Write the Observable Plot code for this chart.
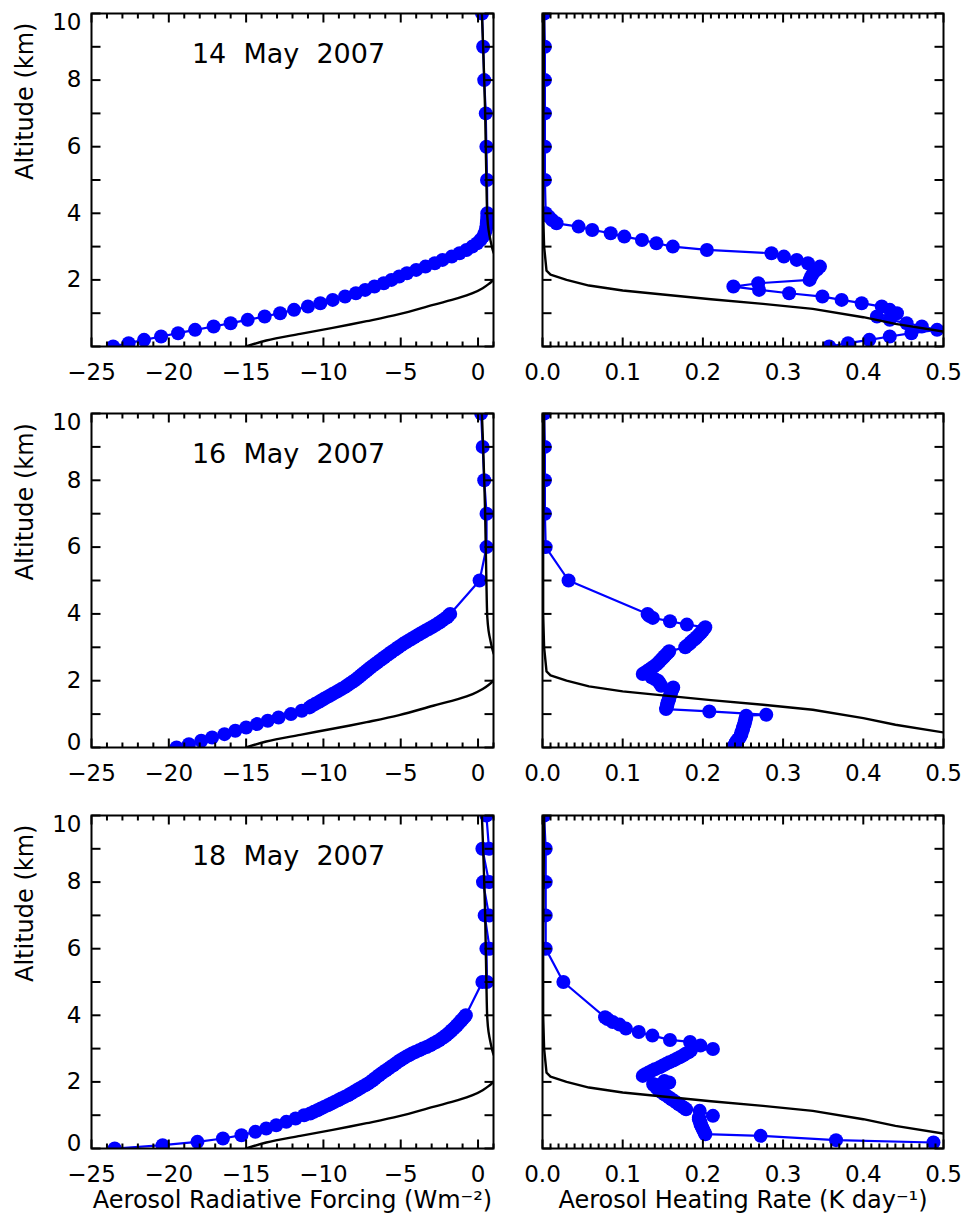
<!DOCTYPE html>
<html><head><meta charset="utf-8">
<script src="https://cdn.jsdelivr.net/npm/d3@7"></script>
<script src="https://cdn.jsdelivr.net/npm/@observablehq/plot@0.6"></script>
<style>
body{margin:0;background:#fff;}
#wrap{position:relative;width:963px;height:1221px;background:#fff;overflow:hidden;}
.cell{position:absolute;}
</style></head><body><div id="wrap"></div>
<script>
// ---------- DATA ----------
const dates = ["14\u00a0 May\u00a0 2007", "16\u00a0 May\u00a0 2007", "18\u00a0 May\u00a0 2007"];
const yTitle = "Altitude (km)";
const xTitleForcing = "Aerosol Radiative Forcing (Wm\u207b\u00b2)";
const xTitleHeating = "Aerosol Heating Rate (K day\u207b\u00b9)";

const forcingMajorTicks = [-25, -20, -15, -10, -5, 0];
const forcingMinorTicks = [-24,-23,-22,-21,-19,-18,-17,-16,-14,-13,-12,-11,-9,-8,-7,-6,-4,-3,-2,-1,1];
const heatingMajorTicks = [0, 0.1, 0.2, 0.3, 0.4, 0.5];
const heatingMinorTicks = [0.01,0.02,0.03,0.04,0.05,0.06,0.07,0.08,0.09,0.11,0.12,0.13,0.14,0.15,0.16,0.17,0.18,0.19,0.21,0.22,0.23,0.24,0.25,0.26,0.27,0.28,0.29,0.31,0.32,0.33,0.34,0.35,0.36,0.37,0.38,0.39,0.41,0.42,0.43,0.44,0.45,0.46,0.47,0.48,0.49];
const altTicks = [0,1,2,3,4,5,6,7,8,9,10];
const altLabels = [2,4,6,8];

// 14 May forcing profile
const forcingAlt14 = [0,0.1,0.2,0.3,0.4,0.5,0.6,0.7,0.8,0.9,1.0,1.1,1.2,1.3,1.4,1.5,1.6,1.7,1.8,1.9,2.0,2.1,2.2,2.3,2.4,2.5,2.6,2.7,2.8,2.9,3.0,3.1,3.2,3.3,3.4,3.5,3.6,3.7,3.8,3.9,4.0,5,6,7,8,9,10];
const forcing14 = [-23.6,-22.6,-21.6,-20.5,-19.4,-18.3,-17.1,-16.0,-14.9,-13.8,-12.8,-11.9,-11.0,-10.2,-9.4,-8.6,-7.9,-7.3,-6.7,-6.1,-5.6,-5.1,-4.6,-4.0,-3.4,-2.8,-2.3,-1.7,-1.2,-0.75,-0.37,-0.06,0.15,0.33,0.43,0.5,0.54,0.57,0.58,0.6,0.6,0.58,0.54,0.5,0.4,0.33,0.26];

// 16 May forcing profile
const forcingAlt16 = [0,0.1,0.2,0.3,0.4,0.5,0.6,0.7,0.8,0.9,1.0,1.1,1.2,
 1.25,1.3,1.35,1.4,1.45,1.5,1.55,1.6,1.65,1.7,1.75,1.8,1.85,1.9,1.95,2.0,2.05,2.1,2.15,2.2,2.25,2.3,2.35,2.4,2.45,2.5,2.55,2.6,2.65,2.7,2.75,2.8,2.85,2.9,2.95,3.0,3.05,3.1,3.15,3.2,3.25,3.3,3.35,3.4,3.45,3.5,3.55,3.6,3.65,3.7,3.75,3.8,3.85,3.9,3.95,4.0,
 5,6,7,8,9,10];
const forcing16 = [-19.5,-18.7,-17.9,-17.2,-16.4,-15.7,-15.0,-14.3,-13.6,-12.9,-12.1,-11.4,-10.9,
 -10.75,-10.55,-10.35,-10.17,-9.98,-9.8,-9.6,-9.41,-9.22,-9.03,-8.84,-8.65,-8.49,-8.33,-8.17,-8.01,-7.86,-7.73,-7.6,-7.47,-7.34,-7.2,-7.07,-6.94,-6.79,-6.65,-6.5,-6.36,-6.21,-6.06,-5.92,-5.77,-5.62,-5.47,-5.31,-5.16,-5.0,-4.85,-4.67,-4.49,-4.31,-4.13,-3.95,-3.77,-3.58,-3.39,-3.19,-3.0,-2.81,-2.63,-2.47,-2.32,-2.16,-2.0,-1.9,-1.8,
 0.1,0.55,0.55,0.4,0.3,0.2];

// 18 May forcing profile
const forcingAlt18 = [0,0.1,0.2,0.3,0.4,0.5,0.6,0.7,0.8,0.9,1.0,
 1.05,1.1,1.15,1.2,1.25,1.3,1.35,1.4,1.45,1.5,1.55,1.6,1.65,1.7,1.75,1.8,1.85,1.9,1.95,2.0,2.05,2.1,2.15,2.2,2.25,2.3,2.35,2.4,2.45,2.5,2.55,2.6,2.65,2.7,2.75,2.8,2.85,2.9,2.95,3.0,3.05,3.1,3.15,3.2,3.25,3.3,3.35,3.4,3.45,3.5,3.55,3.6,3.65,3.7,3.75,3.8,3.85,3.9,3.95,4.0,
 5,5,6,6,7,7,8,8,9,9,10];
const forcing18 = [-23.5,-20.4,-18.15,-16.5,-15.3,-14.4,-13.7,-13.05,-12.4,-11.8,-11.25,
 -10.85,-10.62,-10.39,-10.17,-9.95,-9.72,-9.49,-9.28,-9.06,-8.85,-8.63,-8.41,-8.22,-8.04,-7.86,-7.67,-7.49,-7.3,-7.11,-6.95,-6.81,-6.67,-6.54,-6.4,-6.26,-6.1,-5.95,-5.79,-5.64,-5.48,-5.33,-5.18,-5.03,-4.85,-4.67,-4.48,-4.28,-4.06,-3.81,-3.58,-3.32,-3.09,-2.9,-2.7,-2.51,-2.36,-2.2,-2.06,-1.93,-1.81,-1.7,-1.58,-1.47,-1.36,-1.27,-1.17,-1.07,-0.97,-0.88,-0.79,
 0.28,0.58,0.54,0.75,0.43,0.71,0.32,0.71,0.28,0.71,0.54];

// 14 May heating profile
const heatingAlt14 = [10,9,8,7,6,5,4.0,3.9,3.8,3.7,3.6,3.5,3.4,3.3,3.2,3.1,3.0,2.9,2.8,2.7,2.6,2.5,2.4,2.3,2.2,2.1,2.0,1.9,1.8,1.7,1.6,1.5,1.4,1.3,1.2,1.1,1.0,0.9,0.8,0.7,0.6,0.5,0.4,0.3,0.2,0.1,0.0];
const heating14 = [0.002,0.003,0.003,0.003,0.003,0.003,0.004,0.008,0.012,0.0175,0.045,0.062,0.085,0.102,0.124,0.142,0.1625,0.205,0.2855,0.301,0.317,0.331,0.346,0.342,0.3375,0.335,0.333,0.269,0.238,0.27,0.3075,0.349,0.373,0.398,0.423,0.433,0.442,0.417,0.433,0.454,0.473,0.492,0.46,0.433,0.4075,0.381,0.3575];

// 16 May heating profile
const heatingAlt16 = [10,9,8,7,6,5,4.0,3.94,3.88,3.78,3.68,3.6,3.55,3.5,3.45,3.4,3.35,3.3,3.25,3.2,3.15,3.1,3.05,3.0,2.88,2.83,2.78,2.73,2.68,2.63,2.58,2.53,2.48,2.43,2.38,2.33,2.28,2.23,2.2,2.1,2.05,2.0,1.93,1.85,1.8,1.75,1.7,1.65,1.6,1.55,1.5,1.45,1.4,1.35,1.3,1.25,1.2,1.15,1.08,0.98,0.95,0.9,0.85,0.8,0.75,0.7,0.65,0.6,0.55,0.5,0.45,0.4,0.35,0.3,0.25,0.2,0.15,0.1,0.05,0.0];
const heating16 = [0.002,0.003,0.003,0.003,0.004,0.0325,0.131,0.133,0.1375,0.159,0.18,0.203,0.201,0.2,0.198,0.196,0.194,0.192,0.19,0.187,0.185,0.183,0.18,0.178,0.158,0.156,0.154,0.152,0.15,0.148,0.146,0.144,0.142,0.139,0.136,0.133,0.13,0.127,0.125,0.136,0.14,0.144,0.146,0.148,0.163,0.162,0.161,0.16,0.16,0.159,0.158,0.158,0.157,0.156,0.156,0.155,0.155,0.154,0.208,0.279,0.254,0.254,0.253,0.253,0.252,0.252,0.251,0.25,0.25,0.249,0.248,0.248,0.247,0.246,0.244,0.2425,0.241,0.24,0.239,0.2375];

// 18 May heating profile
const heatingAlt18 = [10,9,8,7,6,5,3.94,3.89,3.8,3.72,3.6,3.5,3.39,3.26,3.2,3.09,2.99,2.94,2.89,2.84,2.79,2.74,2.69,2.64,2.59,2.54,2.49,2.44,2.38,2.33,2.28,2.23,2.18,2.03,1.98,1.93,1.88,1.83,1.78,1.73,1.68,1.63,1.58,1.53,1.48,1.43,1.38,1.33,1.28,1.23,1.18,1.13,0.98,0.93,0.88,0.83,0.78,0.73,0.68,0.63,0.58,0.53,0.48,0.43,0.38,0.25,0.18];
const heating18 = [0.002,0.004,0.004,0.004,0.004,0.026,0.078,0.081,0.0875,0.096,0.104,0.12,0.137,0.159,0.184,0.197,0.2125,0.185,0.182,0.178,0.175,0.171,0.167,0.163,0.158,0.154,0.15,0.146,0.14,0.136,0.132,0.128,0.125,0.152,0.158,0.138,0.14,0.142,0.144,0.146,0.149,0.152,0.155,0.158,0.161,0.164,0.167,0.17,0.173,0.176,0.179,0.196,0.2125,0.195,0.195,0.196,0.197,0.197,0.198,0.199,0.2,0.201,0.202,0.203,0.272,0.366,0.4875];

// black reference curves (same in every row)
const modelForcingAlt = [0,0.18,0.38,0.56,0.76,0.97,1.25,1.45,1.6,1.75,1.88,1.98,2.2,2.5,2.83,3.2,3.5,3.9,5,6,7,8,9,10];
const modelForcing = [-15.0,-13.7,-11.5,-9.4,-7.2,-5.1,-2.9,-1.3,-0.35,0.3,0.7,0.95,1.3,1.35,1.0,0.8,0.68,0.6,0.54,0.5,0.46,0.4,0.33,0.25];
const modelHeatingAlt = [10,6,4,3,2.28,2.16,2.0,1.83,1.68,1.56,1.42,1.28,1.13,0.88,0.68,0.45,0.3];
const modelHeating = [0.002,0.0008,0.0008,0.002,0.005,0.01,0.03,0.058,0.1,0.15,0.21,0.275,0.337,0.4,0.44,0.5,0.53];

// ---------- LAYOUT ----------
const zip = (alts, vals) => alts.map((a, i) => ({a, v: vals[i]}));
const FONT = "'DejaVu Sans', sans-serif";
const rows = [
  {top: 0, height: 400, mt: 13, mb: 54},
  {top: 400, height: 400, mt: 13, mb: 53},
  {top: 800, height: 421, mt: 15, mb: 73}
];
const cols = [
  {left: 0, width: 500, ml: 91, mr: 7},
  {left: 500, width: 463, ml: 42, mr: 20}
];
const forcingSeries = [zip(forcingAlt14, forcing14), zip(forcingAlt16, forcing16), zip(forcingAlt18, forcing18)];
const heatingSeries = [zip(heatingAlt14, heating14), zip(heatingAlt16, heating16), zip(heatingAlt18, heating18)];
const modelF = zip(modelForcingAlt, modelForcing);
const modelH = zip(modelHeatingAlt, modelHeating);
const Y0 = 0, Y1 = 10;

function panel(row, col) {
  const R = rows[row], C = cols[col];
  const fh = R.height - R.mt - R.mb, fw = C.width - C.ml - C.mr;
  const isF = col === 0;
  const xd = isF ? [-25, 1] : [0, 0.5];
  const span = xd[1] - xd[0];
  const series = isF ? forcingSeries[row] : heatingSeries[row];
  const model = isF ? modelF : modelH;
  const major = isF ? forcingMajorTicks : heatingMajorTicks;
  const minor = isF ? forcingMinorTicks : heatingMinorTicks;
  const fmt = isF ? d3.format("d") : d3.format(".1f");
  // inward tick marks on all four sides; pixel lengths converted to data units
  const yLen = px => (Y1 - Y0) * px / fh;
  const xLen = px => span * px / fw;
  const xTickRows = [
    ...major.map(t => ({x: t, ya: Y0, yb: Y0 + yLen(9)})),
    ...major.map(t => ({x: t, ya: Y1 - yLen(9), yb: Y1})),
    ...minor.map(t => ({x: t, ya: Y0, yb: Y0 + yLen(5)})),
    ...minor.map(t => ({x: t, ya: Y1 - yLen(5), yb: Y1}))
  ];
  const yTickRows = [
    ...altTicks.map(t => ({y: t, xa: xd[0], xb: xd[0] + xLen(9)})),
    ...altTicks.map(t => ({y: t, xa: xd[1] - xLen(9), xb: xd[1]}))
  ];
  const marks = [
    Plot.line(series, {x: "v", y: "a", stroke: "#0000ff", strokeWidth: 2.2, clip: true}),
    Plot.dot(series, {x: "v", y: "a", r: 7, fill: "#0000ff", stroke: "none", clip: true}),
    Plot.line(model, {x: "v", y: "a", stroke: "black", strokeWidth: 2.4, clip: true, curve: isF ? "catmull-rom" : "linear"}),
    Plot.link(xTickRows, {x1: "x", x2: "x", y1: "ya", y2: "yb", stroke: "#000", strokeWidth: 2}),
    Plot.link(yTickRows, {x1: "xa", x2: "xb", y1: "y", y2: "y", stroke: "#000", strokeWidth: 2}),
    Plot.axisX(major, {anchor: "bottom", tickSize: 0, tickPadding: 17, tickFormat: fmt, fontSize: 23, label: null}),
    Plot.frame({stroke: "black", strokeWidth: 2})
  ];
  if (isF) {
    marks.push(
      Plot.axisY(altLabels, {anchor: "left", tickSize: 0, tickPadding: 10, fontSize: 23, label: null}),
      Plot.axisY([10], {anchor: "left", tickSize: 0, tickPadding: 10, fontSize: 23, label: null, dy: 9}),
      Plot.text([yTitle], {text: d => d, frameAnchor: "left", rotate: -90, dx: -66, fontSize: 24}),
      Plot.text([dates[row]], {text: d => d, frameAnchor: "top", dy: 30, dx: -4, fontSize: 27})
    );
    if (row > 0) marks.push(Plot.axisY([0], {anchor: "left", tickSize: 0, tickPadding: 10, fontSize: 23, label: null, dy: -5}));
  } else {
    marks.push(Plot.axisY([], {anchor: "left", label: null}));
  }
  if (row === 2) {
    marks.push(Plot.text([isF ? xTitleForcing : xTitleHeating], {text: d => d, frameAnchor: "bottom", dy: 59, fontSize: 24}));
  }
  const svg = Plot.plot({
    width: C.width, height: R.height,
    marginTop: R.mt, marginBottom: R.mb, marginLeft: C.ml, marginRight: C.mr,
    x: {domain: xd},
    y: {domain: [Y0, Y1]},
    style: {fontFamily: FONT, color: "black", background: "white", overflow: "visible"},
    marks
  });
  const div = document.createElement("div");
  div.className = "cell";
  div.style.left = C.left + "px";
  div.style.top = R.top + "px";
  div.appendChild(svg);
  document.getElementById("wrap").appendChild(div);
}
for (let r = 0; r < 3; r++) for (let c = 0; c < 2; c++) panel(r, c);
</script>
</body></html>
